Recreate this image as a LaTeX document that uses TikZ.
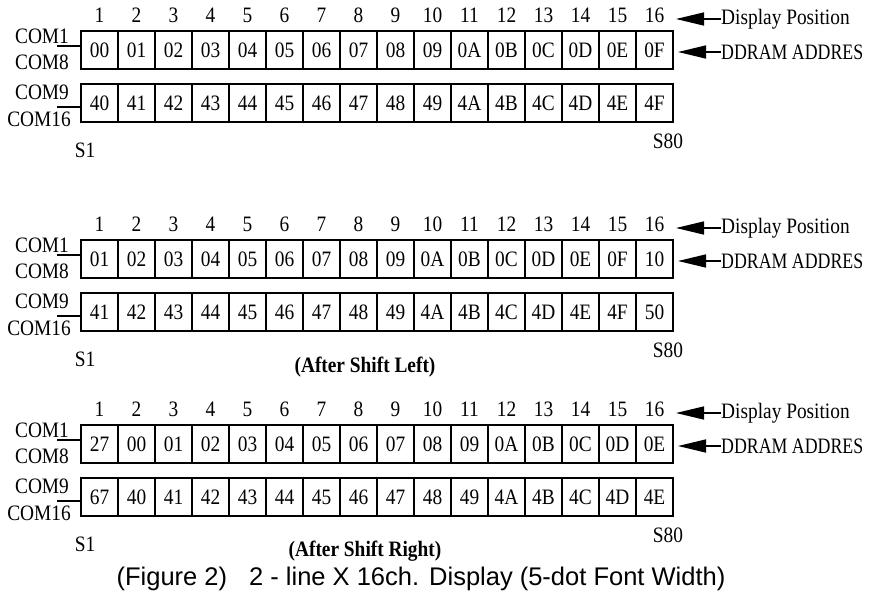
\documentclass[tikz,border=0pt]{standalone}
\usepackage{fontspec}
\setmainfont[FakeStretch=0.88]{Liberation Serif}
\newfontfamily\capfont{Liberation Sans}
\usetikzlibrary{arrows.meta}
\tikzset{
  cell/.style={draw,line width=1.5pt,minimum width=37pt,minimum height=38pt,inner sep=0pt,font=\fontsize{22}{22}\selectfont},
  lbl/.style={inner sep=0pt,font=\fontsize{22}{22}\selectfont},
  ptr/.style={line width=1.5pt,{Triangle[length=28pt,width=13pt]}-},
  tick/.style={line width=1.5pt}
}
\newcommand\lcdblock[4]{%
  \foreach \v [count=\i] in {#3}
    \node[cell] (#2a\i) at ({81+37*(\i-0.5)}, #1+19) {\v};
  \foreach \v [count=\i] in {#4}
    \node[cell] (#2b\i) at ({81+37*(\i-0.5)}, #1+72) {\v};
  \foreach \i in {1,...,16}
    \node[lbl] (#2n\i) at ({81+37*(\i-0.5)}, #1-16) {\i};
  \node[lbl] (#2com1) at (42,#1+5) {COM1};
  \node[lbl] (#2com8) at (42,#1+31) {COM8};
  \node[lbl] (#2com9) at (42,#1+61) {COM9};
  \node[lbl] (#2com16) at (39,#1+88) {COM16};
  \coordinate (#2u1) at (57,#1+15);
  \coordinate (#2u2) at (57,#1+76);
  \draw[tick] (#2u1) -- (#2u1 -| #2a1.west);
  \draw[tick] (#2u2) -- (#2u2 -| #2b1.west);
  \node[lbl] (#2s1) at (85,#1+119) {S1};
  \node[lbl] (#2s80) at (668,#1+110) {S80};
  \node[lbl,anchor=west] (#2dp) at (721,#1-12) {Display Position};
  \coordinate (#2dpt) at (676,#1-12);
  \draw[ptr] (#2dpt) -- (#2dp.west);
  \node[lbl,anchor=west] (#2dd) at (721,#1+21) {\scalebox{0.92}[1]{DDRAM ADDRES}};
  \coordinate (#2ddt) at (678,#1+21);
  \draw[ptr] (#2ddt) -- (#2dd.west);
}
\begin{document}
\begin{tikzpicture}[x=1pt,y=-1pt]
\useasboundingbox[fill=white] (0,0) rectangle (879,600);
\lcdblock{31}{A}{00,01,02,03,04,05,06,07,08,09,0A,0B,0C,0D,0E,0F}{40,41,42,43,44,45,46,47,48,49,4A,4B,4C,4D,4E,4F}
\lcdblock{240}{B}{01,02,03,04,05,06,07,08,09,0A,0B,0C,0D,0E,0F,10}{41,42,43,44,45,46,47,48,49,4A,4B,4C,4D,4E,4F,50}
\lcdblock{425}{C}{27,00,01,02,03,04,05,06,07,08,09,0A,0B,0C,0D,0E}{67,40,41,42,43,44,45,46,47,48,49,4A,4B,4C,4D,4E}
\node[lbl,font=\fontsize{22}{22}\selectfont\bfseries] (left) at (365,367) {(After Shift Left)};
\node[lbl,font=\fontsize{22}{22}\selectfont\bfseries] (right) at (365,551) {(After Shift Right)};
\node[inner sep=0pt,font=\capfont\fontsize{25.5}{25.5}\selectfont] (cap) at (421,579)
  {(Figure 2)\hspace{22pt}2 - line X 16ch.\hspace{10pt}Display (5-dot Font Width)};
\end{tikzpicture}
\end{document}
